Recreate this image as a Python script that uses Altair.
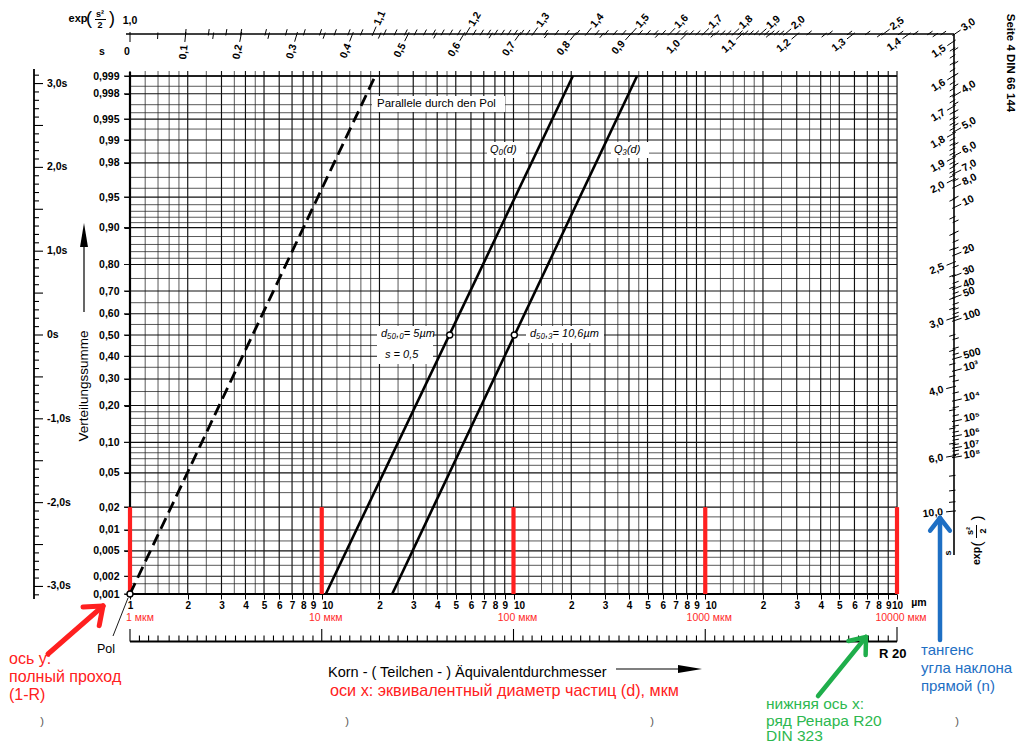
import math
from statistics import NormalDist
import pandas as pd
import altair as alt

ND = NormalDist()
FONT = "Liberation Sans"

# ---------------- values ----------------
prob_ticks = [0.001, 0.002, 0.005, 0.01, 0.02, 0.05, 0.10, 0.20, 0.30, 0.40, 0.50,
              0.60, 0.70, 0.80, 0.90, 0.95, 0.98, 0.99, 0.995, 0.998, 0.999]
prob_tick_labels = ["0,001", "0,002", "0,005", "0,01", "0,02", "0,05", "0,10", "0,20",
                    "0,30", "0,40", "0,50", "0,60", "0,70", "0,80", "0,90", "0,95",
                    "0,98", "0,99", "0,995", "0,998", "0,999"]
prob_grid_minor = [0.0015, 0.003, 0.004, 0.007, 0.015, 0.03, 0.04, 0.06, 0.07, 0.08, 0.09,
                   0.12, 0.14, 0.16, 0.18, 0.25, 0.35, 0.45, 0.55, 0.65, 0.75,
                   0.82, 0.84, 0.86, 0.88, 0.91, 0.92, 0.93, 0.94, 0.96, 0.97, 0.985,
                   0.993, 0.996, 0.997, 0.9985]

decades = [1, 10, 100, 1000]
grid_major_mult = [1, 2, 3, 4, 5, 6, 7, 8, 9]
grid_minor_mult = [1.2, 1.4, 1.6, 1.8, 2.5, 3.5, 4.5]
x_tick_values = [1, 2, 3, 4, 5, 6, 7, 8, 9,
                 10, 20, 30, 40, 50, 60, 70, 80, 90,
                 100, 200, 300, 400, 500, 600, 700, 800, 900,
                 1000, 2000, 3000, 4000, 5000, 6000, 7000, 8000, 9000, 10000]
r20_series = [1.00, 1.12, 1.25, 1.40, 1.60, 1.80, 2.00, 2.24, 2.50, 2.80,
              3.15, 3.55, 4.00, 4.50, 5.00, 5.60, 6.30, 7.10, 8.00, 9.00]

line_names = ["Parallele durch den Pol", "Q0(d)", "Q3(d)"]
line_d_low = [1.0, 10.5, 23.3]      # diameter where each line meets 0,001
line_d_high = [19.0, 204.0, 441.0]  # diameter where each line meets 0,999
line_p_ends = [0.001, 0.999]
d50_values = [46.5, 101.0]
d50_p = 0.5
pol_d = 1.0
pol_p = 0.001

red_bar_d = [1, 10, 100, 1000, 10000]
red_bar_p = [0.001, 0.02]
red_bar_labels = ["1 мкм", "10 мкм", "100 мкм", "1000 мкм", "10000 мкм"]

s_axis_values = [-3, -2, -1, 0, 1, 2, 3]
s_axis_labels = ["-3,0s", "-2,0s", "-1,0s", "0s", "1,0s", "2,0s", "3,0s"]

nomo_s_values = [0.1, 0.2, 0.3, 0.4, 0.5, 0.6, 0.7, 0.8, 0.9, 1.0, 1.1, 1.2, 1.3, 1.4,
                 1.5, 1.6, 1.7, 1.8, 1.9, 2.0, 2.5, 3.0, 4.0, 6.0, 10.0]
nomo_s_labels = [f"{v:.1f}".replace(".", ",") for v in nomo_s_values]
nomo_s_minor = ([round(0.05 + 0.1 * k, 2) for k in range(15)]
                + [round(1.5 + 0.02 * k, 2) for k in range(1, 25) if k % 5 != 0]
                + [2.1, 2.2, 2.3, 2.4, 2.6, 2.7, 2.8, 2.9, 3.2, 3.4, 3.6, 3.8,
                   4.5, 5.0, 5.5, 7.0, 8.0, 9.0])
nomo_exp_values = [1.1, 1.2, 1.3, 1.4, 1.5, 1.6, 1.7, 1.8, 1.9, 2.0, 2.5, 3.0,
                   4.0, 5.0, 6.0, 7.0, 8.0, 10, 20, 30, 40, 50, 100, 500,
                   1e3, 1e4, 1e5, 1e6, 1e7, 1e8]
nomo_exp_labels = ["1,1", "1,2", "1,3", "1,4", "1,5", "1,6", "1,7", "1,8", "1,9", "2,0",
                   "2,5", "3,0", "4,0", "5,0", "6,0", "7,0", "8,0", "10", "20", "30",
                   "40", "50", "100", "500", "10³", "10⁴", "10⁵", "10⁶", "10⁷", "10⁸"]
nomo_exp_minor = ([1.005, 1.01, 1.015, 1.02, 1.03, 1.04, 1.05, 1.06, 1.07, 1.08, 1.09]
                  + [round(1.1 + 0.01 * k, 2) for k in range(1, 20) if k != 10]
                  + [round(1.3 + 0.02 * k, 2) for k in range(1, 35) if k % 5 != 0]
                  + [2.1, 2.2, 2.3, 2.4, 2.6, 2.7, 2.8, 2.9, 3.2, 3.4, 3.6, 3.8,
                     4.2, 4.4, 4.6, 4.8, 5.5, 6.5, 7.5, 9, 12, 14, 16, 18, 25, 35, 45,
                     60, 70, 80, 90, 200, 300, 400, 2000, 5000, 2e4, 5e4, 2e5, 5e5,
                     2e6, 5e6, 2e7, 5e7])

# ---------------- geometry of the probability paper ----------------
W, H = 767, 518
LEFT, TOP = 130, 76
Z_LO, Z_HI = ND.inv_cdf(0.001), ND.inv_cdf(0.999)
PX_DEC = W / 4.0
PX_Z = H / (Z_HI - Z_LO)
KX = PX_DEC / math.log(10)


def zp(p):
    return ND.inv_cdf(p)


def d_at(px):
    return 10 ** ((px - LEFT) / PX_DEC)


def z_at(py):
    return Z_HI - (py - TOP) / PX_Z


XS = alt.Scale(type="log", domain=[1, 10000])
YS = alt.Scale(type="linear", domain=[Z_LO, Z_HI], nice=False, zero=False)

yv = [zp(p) for p in prob_ticks]
yexpr = f"'{prob_tick_labels[-1]}'"
for i in range(len(yv) - 2, -1, -1):
    mid = (yv[i] + yv[i + 1]) / 2
    yexpr = f"datum.value < {mid:.5f} ? '{prob_tick_labels[i]}' : ({yexpr})"

DECADE_TEST = ("datum.value > 5 && datum.value < 5000 && "
               "abs(log(datum.value) / LN10 - round(log(datum.value) / LN10)) < 0.001")
X_AX = alt.Axis(values=x_tick_values, title=None, domain=False, grid=False,
                labelExpr="datum.value < 1.5 ? '1' : format(datum.value / pow(10, floor(log(datum.value) / LN10 - 0.000001)), '.0f')",
                labelAlign={"condition": {"test": DECADE_TEST, "value": "left"}, "value": "center"},
                tickSize=5, tickColor="black", tickWidth=1, labelPadding=1,
                labelFont=FONT, labelFontSize=10, labelColor="black", labelFontWeight="bold",
                labelFlush=False, labelOverlap=False, labelBound=False)
Y_AX = alt.Axis(values=yv, labelExpr=yexpr, title=None, domain=False, grid=False,
                tickSize=6, tickColor="black", tickWidth=1, labelPadding=5,
                labelFont=FONT, labelFontSize=10.5, labelColor="black", labelFontWeight="bold",
                labelFlush=False, labelOverlap=False, labelBound=False)


def E(x="d", y="z", x2=None, y2=None, **kw):
    e = dict(x=alt.X(f"{x}:Q", scale=XS, axis=X_AX), y=alt.Y(f"{y}:Q", scale=YS, axis=Y_AX))
    if x2:
        e["x2"] = alt.X2(f"{x2}:Q")
    if y2:
        e["y2"] = alt.Y2(f"{y2}:Q")
    e.update(kw)
    return e


def seg_layer(rows, width, color="black", dash=None, cap="butt", opacity=1.0):
    df = pd.DataFrame(rows, columns=["d", "z", "d2", "z2"])
    m = dict(strokeWidth=width, color=color, strokeCap=cap, opacity=opacity)
    if dash:
        m["strokeDash"] = dash
    return alt.Chart(df).mark_rule(**m).encode(**E(x2="d2", y2="z2"))


def px_seg(x1, y1, x2, y2):
    return (d_at(x1), z_at(y1), d_at(x2), z_at(y2))


def ann(items, size, color="black", align="left", weight="normal", style="normal", angle=0):
    df = pd.DataFrame({"d": [d_at(i[0]) for i in items], "z": [z_at(i[1]) for i in items],
                       "text": [i[2] for i in items]})
    return alt.Chart(df).mark_text(fontSize=size, color=color, align=align, baseline="middle",
                                   fontWeight=weight, fontStyle=style, angle=angle,
                                   font=FONT).encode(**E(text=alt.Text("text:N")))


def chevron(tail, tip, barb, spread=38):
    (x1, y1), (x2, y2) = tail, tip
    L = math.hypot(x2 - x1, y2 - y1)
    ux, uy = (x1 - x2) / L, (y1 - y2) / L
    rows = [px_seg(x1, y1, x2, y2)]
    for sg in (1, -1):
        a = math.radians(spread * sg)
        bx = ux * math.cos(a) - uy * math.sin(a)
        by = ux * math.sin(a) + uy * math.cos(a)
        rows.append(px_seg(x2, y2, x2 + barb * bx, y2 + barb * by))
    return rows


layers = []

# ---- grid ----
vmaj = [(dec * m, Z_LO, dec * m, z_at(71)) for dec in decades for m in grid_major_mult] + [(10000, Z_LO, 10000, z_at(71))]
vmin = [(dec * m, Z_LO, dec * m, z_at(71)) for dec in decades for m in grid_minor_mult]
hmaj = [(d_at(124), zp(p), 10000, zp(p)) for p in prob_ticks]
hmin = [(1, zp(p), 10000, zp(p)) for p in prob_grid_minor]
layers += [seg_layer(vmin, 0.75, "#222"), seg_layer(hmin, 0.75, "#222"),
           seg_layer(vmaj, 1.15, "#111"), seg_layer(hmaj, 1.15, "#111")]
layers.append(seg_layer([(1, Z_LO, 1, z_at(72)), (1, Z_LO, 10000, Z_LO)], 2.2))
layers.append(seg_layer([(1, Z_HI, 10000, Z_HI)], 1.5))

# ---- white label boxes ----
boxes = [(372, 96, 505, 112), (487, 142, 526, 158), (611, 142, 649, 158),
         (377, 326, 433, 364), (526, 326, 604, 343)]
bdf = pd.DataFrame([px_seg(*b) for b in boxes], columns=["d", "z", "d2", "z2"])
layers.append(alt.Chart(bdf).mark_rect(color="white").encode(**E(x2="d2", y2="z2")))

# ---- red marks at decades ----
layers.append(seg_layer([(d, zp(red_bar_p[0]), d, zp(red_bar_p[1])) for d in red_bar_d], 4.2, "#ff2020"))

# ---- distribution lines ----
ldf = pd.DataFrame({
    "name": [n for n in line_names for _ in line_p_ends],
    "d": [v for lo, hi in zip(line_d_low, line_d_high) for v in (lo, hi)],
    "z": [zp(p) for _ in line_names for p in line_p_ends],
})
layers.append(alt.Chart(ldf[ldf.name == line_names[0]]).mark_line(
    color="black", strokeWidth=2.8, strokeDash=[12, 6]).encode(**E(detail="name:N")))
layers.append(alt.Chart(ldf[ldf.name != line_names[0]]).mark_line(
    color="black", strokeWidth=2.6).encode(**E(detail="name:N")))

# Pol connector
layers.append(seg_layer([px_seg(128, 598, 113, 636)], 0.9))

cdf = pd.DataFrame({"d": d50_values + [pol_d], "z": [zp(d50_p)] * len(d50_values) + [zp(pol_p)]})
layers.append(alt.Chart(cdf).mark_point(shape="circle", filled=True, fill="white", stroke="black",
                                        strokeWidth=1.4, size=36, opacity=1).encode(**E()))

# ---- left s scale ----
XL = 34
ticks_l = []
for k in range(-31, 32):
    ln = 9 if k % 5 == 0 else 5
    ticks_l.append((d_at(XL), k / 10, d_at(XL + ln), k / 10))
layers.append(seg_layer(ticks_l, 1.1))
layers.append(seg_layer([(d_at(XL), z_at(69), d_at(XL), z_at(599))], 1.8))
sdf = pd.DataFrame({"d": [d_at(47)] * len(s_axis_values), "z": s_axis_values, "text": s_axis_labels})
layers.append(alt.Chart(sdf).mark_text(align="left", baseline="middle", fontSize=10.5, fontWeight="bold",
                                       font=FONT, color="black").encode(**E(text="text:N")))

# ---- top / right nomogram (slope scale) ----
z_pol = Z_LO
z_top = z_at(34)
ln_right = math.log(d_at(954))
dz_top = z_top - z_pol


def nomo_point(s):
    if s * dz_top <= ln_right * 1.0005:
        return s * dz_top, z_top
    return ln_right, z_pol + ln_right / s


def along(s, off):
    lnd, z = nomo_point(s)
    dist = math.hypot(lnd * KX, (z - z_pol) * PX_Z)
    t = 1 + off / dist
    return math.exp(t * lnd), z_pol + t * (z - z_pol)


def nomo_angle(s):
    lnd, z = nomo_point(s)
    return math.degrees(math.atan2(-(z - z_pol) * PX_Z, lnd * KX)) % 360


def s_of_exp(e):
    return math.sqrt(2 * math.log(e))


layers.append(seg_layer([(d_at(126), z_top, d_at(954), z_top),
                         (d_at(954), z_top, d_at(954), z_at(555))], 1.6))
nt = []
for s in [0.0] + nomo_s_values:
    nt.append((*along(s, 2), *along(s, -8)))
for s in nomo_s_minor:
    nt.append((*along(s, 1.5), *along(s, -5)))
for e in nomo_exp_values:
    s = s_of_exp(e)
    nt.append((*along(s, -2), *along(s, 8)))
for e in nomo_exp_minor:
    s = s_of_exp(e)
    nt.append((*along(s, -1.5), *along(s, 5)))
layers.append(seg_layer(nt, 1.0))

sl = pd.DataFrame([(*along(s, -11), t, nomo_angle(s)) for s, t in zip(nomo_s_values, nomo_s_labels)],
                  columns=["d", "z", "text", "ang"])
el = pd.DataFrame([(*along(s_of_exp(e), 10), t, nomo_angle(s_of_exp(e)))
                   for e, t in zip(nomo_exp_values, nomo_exp_labels)],
                  columns=["d", "z", "text", "ang"])
layers.append(alt.Chart(sl).mark_text(align="right", baseline="middle", fontSize=10.5, font=FONT,
                                      fontWeight="bold", color="black").encode(
    **E(text="text:N", angle=alt.Angle("ang:Q", scale=None))))
layers.append(alt.Chart(el).mark_text(align="left", baseline="middle", fontSize=10.5, font=FONT,
                                      fontWeight="bold", color="black").encode(
    **E(text="text:N", angle=alt.Angle("ang:Q", scale=None))))
layers.append(ann([(127, 52, "0"), (130, 21, "1,0")], 10.5, align="center", weight="bold"))
layers.append(ann([(102, 52, "s")], 10.5, align="center", weight="bold"))
layers.append(ann([(78, 19, "exp")], 11, align="center", weight="bold"))
layers.append(ann([(89, 19, "("), (112, 19, ")")], 18, align="center"))
layers.append(ann([(100, 14, "s²"), (100, 25, "2")], 9, align="center", weight="bold"))
layers.append(seg_layer([px_seg(95, 19.5, 106, 19.5)], 1))
# rotated at lower right
layers.append(ann([(977, 556, "exp")], 10.5, align="center", weight="bold", angle=270))
layers.append(ann([(977, 544, "("), (977, 518, ")")], 15, align="center", angle=270))
layers.append(ann([(970, 531, "s²"), (983, 531, "2")], 9, align="center", weight="bold", angle=270))
layers.append(seg_layer([px_seg(976.5, 525, 976.5, 538)], 1))
layers.append(ann([(948, 553, "s")], 9, align="center", weight="bold", angle=270))
layers.append(ann([(1010, 63, "Seite 4    DIN 66 144")], 11.5, align="center", weight="bold", angle=90))

# ---- R20 ruler ----
YR = 641.5
rt = [(dec * r, z_at(YR), dec * r, z_at(629 if r == 1.0 else 635.5)) for dec in decades for r in r20_series]
rt.append((10000, z_at(YR), 10000, z_at(627)))
layers.append(seg_layer(rt, 1.1))
layers.append(seg_layer([(1, z_at(YR), 10000, z_at(YR))], 1.8))
layers.append(ann([(879, 654, "R 20")], 13, weight="bold"))
layers.append(ann([(919, 603, "µm")], 10.5, align="center", weight="bold"))

# red decade labels
rl = [(140, 618, red_bar_labels[0])] + [(LEFT + PX_DEC * i + 4, 618, red_bar_labels[i]) for i in range(1, 5)]
layers.append(ann(rl, 10.5, color="#ff2a2a", align="center"))

# ---- in-plot labels ----
layers.append(ann([(377, 104, "Parallele durch den Pol")], 11.5))
layers.append(ann([(490, 150, "Q₀(d)"), (614, 150, "Q₃(d)")], 11, style="italic"))
layers.append(ann([(381, 334, "d₅₀,₀= 5µm"), (385, 355, "s = 0,5"), (530, 334, "d₅₀,₃= 10,6µm")],
                  11, style="italic"))
layers.append(ann([(106, 649, "Pol")], 12.5, align="center"))

# ---- axis titles ----
layers.append(ann([(84, 386, "Verteilungssumme")], 13.5, align="center", angle=270))
layers.append(seg_layer([px_seg(84, 312, 84, 238)], 1.2))
layers.append(ann([(328, 673, "Korn - ( Teilchen - )  Äquivalentdurchmesser")], 14.5))
layers.append(seg_layer([px_seg(616, 669, 690, 669)], 1.2))
hd = pd.DataFrame({"d": [d_at(84), d_at(690)], "z": [z_at(235), z_at(669)], "a": [0, 90]})
layers.append(alt.Chart(hd).mark_point(shape="M0,-1 L0.33,1 L-0.33,1 Z", filled=True, color="black",
                                       size=576, opacity=1).encode(**E(angle=alt.Angle("a:Q", scale=None))))

# ---- coloured annotations ----
layers.append(seg_layer(chevron((48, 654), (103, 606), 20), 5, "#ff2020", cap="round"))
layers.append(ann([(9, 659, "ось у:"), (9, 677, "полный проход"), (9, 695, "(1-R)")], 16, color="#ff2020"))
layers.append(ann([(330, 691, "оси х: эквивалентный диаметр частиц (d), мкм")], 16.2, color="#ff2020"))
layers.append(seg_layer(chevron((818, 696), (866, 637), 18), 4.5, "#1fae4b", cap="round"))
layers.append(ann([(766, 704, "нижняя ось х:"), (766, 721, "ряд Ренара R20"), (766, 736, "DIN 323")],
                  15.5, color="#2db84f"))
layers.append(seg_layer(chevron((940, 640), (940, 518), 16), 4.5, "#1e6fc4", cap="round"))
layers.append(ann([(921, 650, "тангенс"), (921, 668, "угла наклона"), (921, 686, "прямой (n)")],
                  15, color="#1e6fc4"))
layers.append(ann([(42, 722, ")"), (347, 722, ")"), (652, 722, ")"), (957, 722, ")")], 11, color="#555",
                  align="center"))

chart = alt.layer(*layers).properties(
    width=W, height=H,
    autosize=alt.AutoSizeParams(type="none"),
    padding={"left": 122, "top": 68, "right": 119, "bottom": 149},
).configure_view(stroke=None).configure(background="white")

chart.save("out.html", embed_options={"renderer": "svg", "actions": False})
